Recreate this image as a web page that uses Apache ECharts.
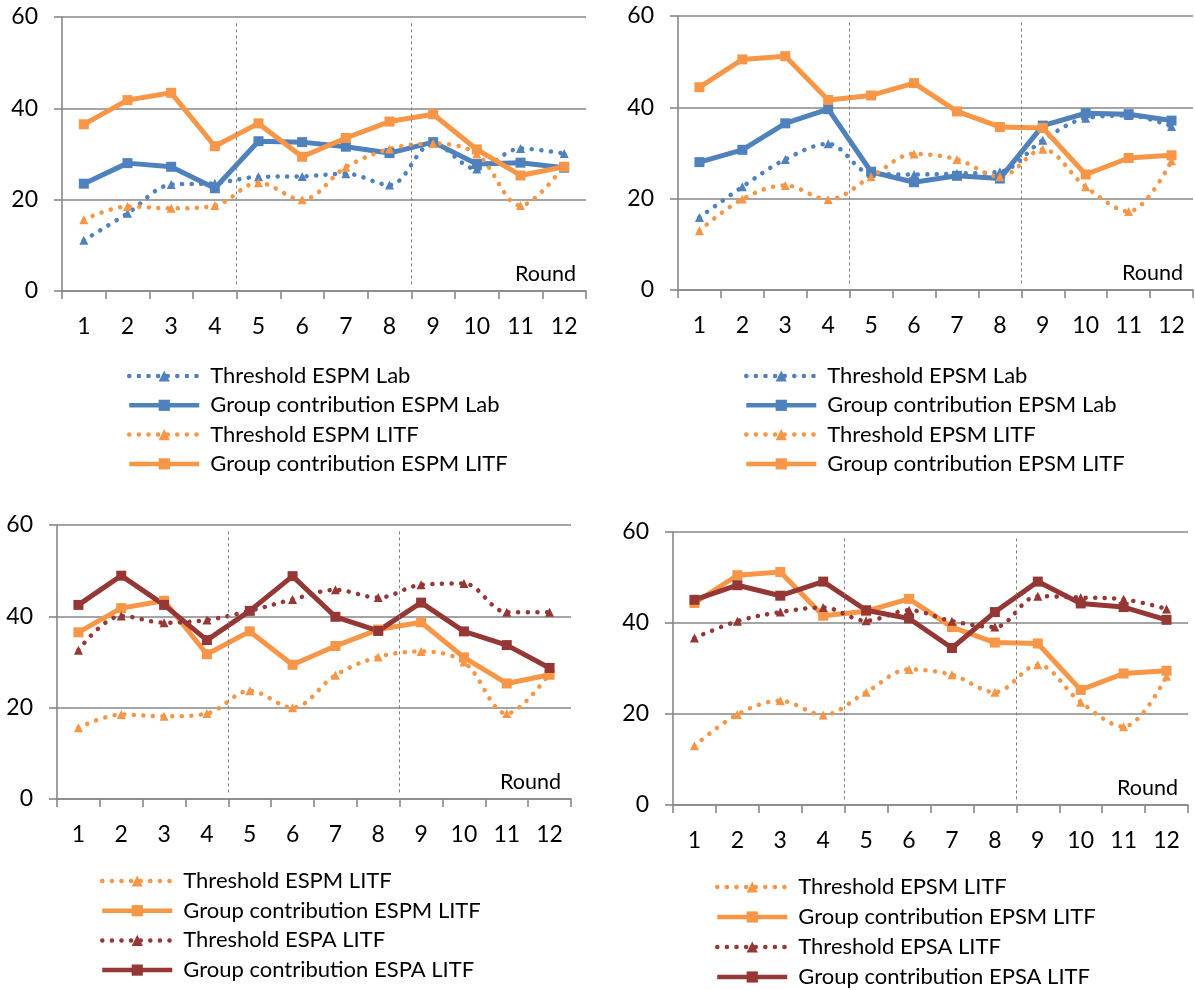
<!DOCTYPE html>
<html>
<head>
<meta charset="utf-8">
<title>Threshold and group contribution by round</title>
<script src="https://cdn.jsdelivr.net/npm/echarts@6/dist/echarts.min.js"></script>
<style>
  html, body { margin: 0; padding: 0; background: #ffffff; overflow: hidden; }
  #chart { width: 1195px; height: 1040px; }
</style>
</head>
<body>
<div id="chart"></div>
<script>
// Rounds on the category axis
const rounds = ['1', '2', '3', '4', '5', '6', '7', '8', '9', '10', '11', '12'];
const yTicks = [0, 20, 40, 60];

// ESPM treatment
const thresholdEspmLab = [11.1, 17.0, 23.3, 23.6, 25.0, 25.1, 25.7, 23.2, 32.3, 26.7, 31.2, 30.1];
const groupEspmLab = [23.5, 28.0, 27.2, 22.5, 32.8, 32.6, 31.6, 30.2, 32.6, 27.8, 28.1, 27.0];
const thresholdEspmLitf = [15.6, 18.5, 18.1, 18.7, 23.7, 20.0, 27.1, 31.1, 32.3, 30.0, 18.7, 27.5];
const groupEspmLitf = [36.5, 41.8, 43.4, 31.7, 36.7, 29.4, 33.5, 37.1, 38.7, 31.0, 25.3, 27.2];

// EPSM treatment
const thresholdEpsmLab = [15.9, 22.6, 28.6, 32.0, 25.5, 25.3, 25.5, 25.9, 32.8, 37.6, 38.2, 35.8];
const groupEpsmLab = [28.0, 30.7, 36.5, 39.6, 25.9, 23.6, 25.0, 24.4, 36.0, 38.7, 38.5, 37.1];
const thresholdEpsmLitf = [13.0, 19.9, 22.9, 19.8, 24.8, 29.8, 28.6, 24.8, 30.8, 22.6, 17.2, 28.3];
const groupEpsmLitf = [44.4, 50.5, 51.2, 41.6, 42.6, 45.3, 39.1, 35.7, 35.5, 25.3, 28.9, 29.5];

// ESPA / EPSA treatments
const thresholdEspaLitf = [32.6, 40.1, 38.6, 39.2, 41.2, 43.7, 45.8, 44.1, 46.9, 47.2, 40.9, 40.9];
const groupEspaLitf = [42.5, 48.9, 42.5, 34.8, 41.2, 48.8, 39.9, 36.8, 43.0, 36.7, 33.7, 28.7];
const thresholdEpsaLitf = [36.7, 40.4, 42.4, 43.4, 40.5, 42.8, 40.4, 39.1, 45.9, 45.6, 45.2, 43.1];
const groupEpsaLitf = [45.1, 48.3, 46.0, 49.1, 42.8, 41.0, 34.5, 42.4, 49.1, 44.3, 43.5, 40.7];

// Phase boundaries (after round 4 and round 8)
const phaseBreaks = [4, 8];

const BLUE = '#4f81bd';
const ORANGE = '#f79646';
const RED = '#953735';
const GRID_GREY = '#878787';
const FONT = 'Lato';

function thresholdSeries(name, data, color, idx) {
  return {
    name, type: 'line', data, xAxisIndex: idx * 2, yAxisIndex: idx,
    smooth: 0.35,
    symbol: 'triangle', symbolSize: 9,
    itemStyle: { color },
    lineStyle: { color, width: 4.5, type: [0.1, 9.5], cap: 'round' },
    emphasis: { disabled: true }
  };
}

function groupSeries(name, data, color, idx) {
  return {
    name, type: 'line', data, xAxisIndex: idx * 2, yAxisIndex: idx,
    symbol: 'rect', symbolSize: 10,
    itemStyle: { color },
    lineStyle: { color, width: 5 },
    emphasis: { disabled: true }
  };
}

const panels = [
  {
    grid: { left: 62, top: 17, width: 524, height: 274 },
    legend: { left: 127, top: 365, gap: 7.3 },
    lines: [
      ['t', 'Threshold ESPM Lab', thresholdEspmLab, BLUE],
      ['g', 'Group contribution ESPM Lab', groupEspmLab, BLUE],
      ['t', 'Threshold ESPM LITF', thresholdEspmLitf, ORANGE],
      ['g', 'Group contribution ESPM LITF', groupEspmLitf, ORANGE]
    ]
  },
  {
    grid: { left: 678, top: 16, width: 515, height: 274 },
    legend: { left: 744, top: 365, gap: 7.3 },
    lines: [
      ['t', 'Threshold EPSM Lab', thresholdEpsmLab, BLUE],
      ['g', 'Group contribution EPSM Lab', groupEpsmLab, BLUE],
      ['t', 'Threshold EPSM LITF', thresholdEpsmLitf, ORANGE],
      ['g', 'Group contribution EPSM LITF', groupEpsmLitf, ORANGE]
    ]
  },
  {
    grid: { left: 57, top: 525, width: 514, height: 274 },
    legend: { left: 100, top: 870, gap: 7.7 },
    lines: [
      ['t', 'Threshold ESPM LITF', thresholdEspmLitf, ORANGE],
      ['g', 'Group contribution ESPM LITF', groupEspmLitf, ORANGE],
      ['t', 'Threshold ESPA LITF', thresholdEspaLitf, RED],
      ['g', 'Group contribution ESPA LITF', groupEspaLitf, RED]
    ]
  },
  {
    grid: { left: 673, top: 532, width: 515, height: 273 },
    legend: { left: 715, top: 876, gap: 8 },
    lines: [
      ['t', 'Threshold EPSM LITF', thresholdEpsmLitf, ORANGE],
      ['g', 'Group contribution EPSM LITF', groupEpsmLitf, ORANGE],
      ['t', 'Threshold EPSA LITF', thresholdEpsaLitf, RED],
      ['g', 'Group contribution EPSA LITF', groupEpsaLitf, RED]
    ]
  }
];

const grids = [], xAxes = [], yAxes = [], legends = [], series = [];

panels.forEach((p, i) => {
  grids.push(Object.assign({ containLabel: false }, p.grid));

  // visible category axis
  xAxes.push({
    type: 'category', gridIndex: i, data: rounds, boundaryGap: true,
    name: 'Round', nameLocation: 'end', nameGap: -10,
    nameTextStyle: {
      fontFamily: FONT, fontSize: 21.5, color: '#000',
      align: 'right', verticalAlign: 'bottom', padding: [0, 0, 6, 0]
    },
    axisLine: { show: true, lineStyle: { color: GRID_GREY, width: 1.6 } },
    axisTick: { show: true, inside: false, length: 8, alignWithLabel: false,
                lineStyle: { color: GRID_GREY, width: 1.6 } },
    axisLabel: { fontFamily: FONT, fontSize: 23, color: '#000', margin: 24 },
    splitLine: { show: false }
  });
  // hidden value axis used for the phase boundary lines
  xAxes.push({ type: 'value', gridIndex: i, min: 0, max: rounds.length, show: false });

  yAxes.push({
    type: 'value', gridIndex: i,
    min: yTicks[0], max: yTicks[yTicks.length - 1], interval: yTicks[1] - yTicks[0],
    axisLine: { show: true, lineStyle: { color: GRID_GREY, width: 1.6 } },
    axisTick: { show: true, inside: false, length: 8, lineStyle: { color: GRID_GREY, width: 1.6 } },
    axisLabel: { fontFamily: FONT, fontSize: 23, color: '#000', margin: 24 },
    splitLine: { show: true, lineStyle: { color: GRID_GREY, width: 1.6 } }
  });

  legends.push({
    orient: 'vertical', left: p.legend.left, top: p.legend.top,
    padding: 0,
    itemWidth: 70, itemHeight: 14, itemGap: p.legend.gap,
    selectedMode: false,
    data: p.lines.map(l => l[1]),
    lineStyle: { width: 4.5 },
    textStyle: { fontFamily: FONT, fontSize: 22, color: '#000', lineHeight: 22,
                 padding: [0, 0, 0, 6] }
  });

  // phase boundaries
  series.push({
    type: 'line', xAxisIndex: i * 2 + 1, yAxisIndex: i, data: [],
    silent: true,
    markLine: {
      silent: true, symbol: 'none', animation: false,
      label: { show: false },
      lineStyle: { color: '#7f7f7f', width: 1, type: [3, 3] },
      data: phaseBreaks.map(b => [{ coord: [b, 58.6] }, { coord: [b, 1.2] }])
    }
  });

  p.lines.forEach(l => {
    series.push(l[0] === 't'
      ? thresholdSeries(l[1], l[2], l[3], i)
      : groupSeries(l[1], l[2], l[3], i));
  });
});

const chart = echarts.init(document.getElementById('chart'), null, { renderer: 'canvas' });
chart.setOption({
  animation: false,
  backgroundColor: '#ffffff',
  grid: grids,
  xAxis: xAxes,
  yAxis: yAxes,
  legend: legends,
  series
});
</script>
</body>
</html>
